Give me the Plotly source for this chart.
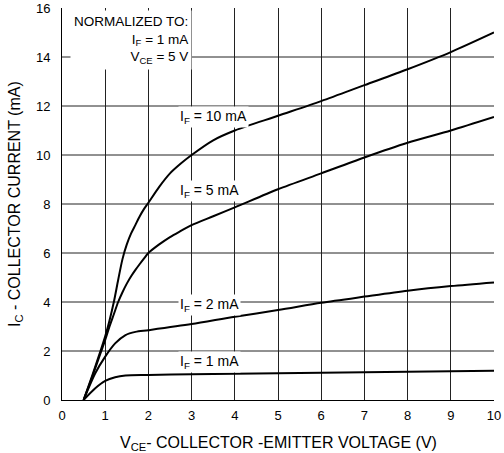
import plotly.graph_objects as go

# Data
x_if10 = [0.5, 0.7, 0.9, 1.0, 1.1, 1.2, 1.3, 1.4, 1.5, 1.6, 1.7, 1.8, 1.9, 2.0, 2.25, 2.5, 2.75, 3.0, 3.5, 4.0, 5, 6, 7, 8, 9, 10]
y_if10 = [0, 1.0, 2.05, 2.6, 3.25, 4.0, 4.9, 5.75, 6.35, 6.8, 7.15, 7.5, 7.8, 8.05, 8.7, 9.25, 9.65, 10.0, 10.6, 11.0, 11.6, 12.2, 12.85, 13.5, 14.2, 15.0]

x_if5 = [0.5, 0.7, 0.9, 1.0, 1.1, 1.2, 1.3, 1.4, 1.5, 1.6, 1.7, 1.8, 1.9, 2.0, 2.25, 2.5, 2.75, 3.0, 3.5, 4.0, 5, 6, 7, 8, 9, 10]
y_if5 = [0, 0.95, 1.95, 2.45, 3.0, 3.5, 4.0, 4.4, 4.75, 5.05, 5.31, 5.55, 5.78, 6.0, 6.35, 6.65, 6.9, 7.14, 7.5, 7.86, 8.6, 9.25, 9.9, 10.5, 11.0, 11.55]

x_if2 = [0.5, 0.77, 1.0, 1.23, 1.47, 1.7, 2.0, 3, 4, 5, 6, 7, 8, 9, 10]
y_if2 = [0, 1.09, 1.77, 2.31, 2.65, 2.78, 2.85, 3.1, 3.4, 3.67, 3.97, 4.22, 4.46, 4.65, 4.8]

x_if1 = [0.5, 0.77, 1.0, 1.23, 1.47, 2.0, 3, 4, 5, 6, 7, 8, 9, 10]
y_if1 = [0, 0.48, 0.78, 0.93, 1.0, 1.02, 1.05, 1.07, 1.09, 1.11, 1.13, 1.15, 1.17, 1.19]

x_ticks = [0, 1, 2, 3, 4, 5, 6, 7, 8, 9, 10]
y_ticks = [0, 2, 4, 6, 8, 10, 12, 14, 16]
y_grid = [2, 4, 6, 8, 10, 12, 14]

curve_labels = ["I<sub>F</sub> = 10 mA", "I<sub>F</sub> = 5 mA", "I<sub>F</sub> = 2 mA", "I<sub>F</sub> = 1 mA"]
label_x = [2.69, 2.69, 2.69, 2.69]
label_y = [11.55, 8.54, 3.88, 1.55]

x_title = "V<sub>CE</sub>- COLLECTOR -EMITTER VOLTAGE (V)"
y_title = "I<sub>C</sub> - COLLECTOR CURRENT (mA)"

FONT = "Liberation Sans, Arial, sans-serif"

fig = go.Figure()
for xs, ys in [(x_if10, y_if10), (x_if5, y_if5), (x_if2, y_if2), (x_if1, y_if1)]:
    fig.add_trace(go.Scatter(x=xs, y=ys, mode="lines",
                             line=dict(color="black", width=2, shape="spline", smoothing=0.8),
                             showlegend=False, hoverinfo="skip"))

shapes = []
for gy in y_grid:
    shapes.append(dict(type="line", xref="paper", yref="y", x0=0, x1=1, y0=gy, y1=gy,
                       line=dict(color="#222222", width=1), layer="below"))

annotations = []
for t, lx, ly in zip(curve_labels, label_x, label_y):
    annotations.append(dict(x=lx, y=ly, xref="x", yref="y", text=t, showarrow=False,
                            xanchor="left", yanchor="middle", bgcolor="white",
                            font=dict(family=FONT, size=14, color="black"), borderpad=1))

annotations.append(dict(x=3.02, y=15.9, xref="x", yref="y",
                        text="NORMALIZED TO:<br>I<sub>F</sub> = 1 mA<br>V<sub>CE</sub> = 5 V",
                        showarrow=False, xanchor="right", yanchor="top", align="right",
                        bgcolor="white", borderpad=3,
                        font=dict(family=FONT, size=13.5, color="black")))

# axis titles as paper-anchored annotations
annotations.append(dict(x=0.5, y=0, xref="paper", yref="paper", text=x_title,
                        showarrow=False, xanchor="center", yanchor="middle", yshift=-43,
                        font=dict(family=FONT, size=16, color="black")))
annotations.append(dict(x=0, y=0.5, xref="paper", yref="paper", text=y_title,
                        showarrow=False, xanchor="center", yanchor="middle", xshift=-47,
                        textangle=-90, font=dict(family=FONT, size=16, color="black")))

fig.update_layout(
    width=504, height=453,
    margin=dict(l=62, r=10, t=8, b=53, autoexpand=False),
    paper_bgcolor="white", plot_bgcolor="white",
    font=dict(family=FONT, size=13, color="black"),
    shapes=shapes, annotations=annotations,
    xaxis=dict(range=[0, 10], tickvals=x_ticks, showgrid=True, gridcolor="#222222", gridwidth=1,
               zeroline=False, showline=True, linecolor="black", linewidth=1,
               ticks="outside", ticklen=3, tickcolor="rgba(0,0,0,0)",
               tickfont=dict(family=FONT, size=13), automargin=False),
    yaxis=dict(range=[0, 16], tickvals=y_ticks, showgrid=False,
               zeroline=False, showline=True, linecolor="black", linewidth=1,
               ticks="outside", ticklen=8, tickcolor="rgba(0,0,0,0)",
               tickfont=dict(family=FONT, size=13), automargin=False),
)

fig.write_html("out.html", config={"displayModeBar": False},
               post_script="document.body.style.margin='0';document.body.style.padding='0';")
